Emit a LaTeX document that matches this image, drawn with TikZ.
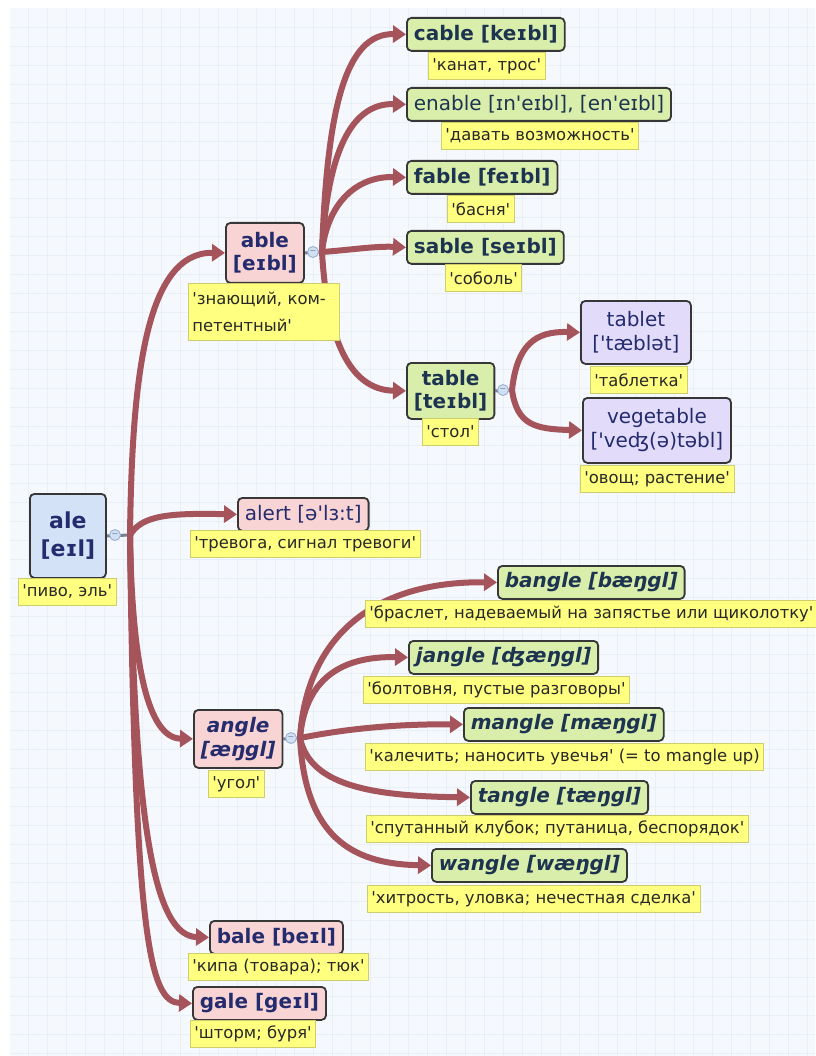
\documentclass[tikz,border=0pt]{standalone}
\usepackage{fontspec}
\setmainfont{DejaVu Sans}[Ligatures=TeXOff]
\usetikzlibrary{arrows.meta}
\definecolor{pagebg}{RGB}{245,248,252}
\definecolor{gridline}{RGB}{233,239,247}
\definecolor{linkc}{RGB}{164,84,90}
\definecolor{boxline}{RGB}{55,55,55}
\definecolor{rootfill}{RGB}{212,226,248}
\definecolor{pinkfill}{RGB}{248,212,212}
\definecolor{greenfill}{RGB}{218,238,172}
\definecolor{lilacfill}{RGB}{226,220,250}
\definecolor{glossfill}{RGB}{255,255,128}
\definecolor{glossline}{RGB}{205,205,110}
\definecolor{wordink}{RGB}{36,44,110}
\definecolor{greenink}{RGB}{28,52,80}
\definecolor{glossink}{RGB}{40,40,40}
\definecolor{knobfill}{RGB}{208,224,244}
\definecolor{knobline}{RGB}{150,172,205}
\definecolor{stubc}{RGB}{120,128,150}
\pgfdeclarelayer{back}
\pgfdeclarelayer{links}
\pgfsetlayers{back,links,main}
\begin{document}
\begin{tikzpicture}[x=1pt,y=-1pt,
  word/.style={draw=boxline, line width=1.8pt, rounded corners=4.5pt,
    inner xsep=7pt, inner ysep=3pt, anchor=north west, align=center,
    font=\fontsize{20}{23}\selectfont\bfseries, text=wordink, minimum height=33pt},
  rootbox/.style={word, fill=rootfill},
  pinkbox/.style={word, fill=pinkfill},
  greenbox/.style={word, fill=greenfill, text=greenink},
  lilacbox/.style={word, fill=lilacfill, font=\fontsize{20}{24}\selectfont},
  plain/.style={font=\fontsize{20}{23}\selectfont},
  slanted/.style={font=\fontsize{20}{24}\selectfont\bfseries\itshape},
  gloss/.style={fill=glossfill, draw=glossline, line width=0.8pt, anchor=north west,
    inner xsep=4pt, inner ysep=2pt, minimum height=27pt,
    font=\fontsize{16.4}{19}\selectfont, text=glossink},
  knob/.style={circle, fill=knobfill, draw=knobline, line width=0.8pt,
    minimum size=11pt, inner sep=0pt, font=\fontsize{8}{8}\selectfont, text=stubc},
  stub/.style={draw=stubc, line width=3pt},
  link/.style={draw=linkc, line width=6pt, -{Triangle[length=13pt,width=17pt]}},
]
\useasboundingbox (0,0) rectangle (815,1056);

% page and faint grid
\begin{pgfonlayer}{back}
  \fill[white] (0,0) rectangle (815,1056);
  \fill[pagebg] (10,8) rectangle (815,1056);
  \foreach \gx in {28,47,...,815} \draw[gridline, line width=0.6pt] (\gx,8) -- (\gx,1056);
  \foreach \gy in {27,46,...,1056} \draw[gridline, line width=0.6pt] (10,\gy) -- (815,\gy);
\end{pgfonlayer}

% root
\node[rootbox, font=\fontsize{22}{28}\selectfont\bfseries, minimum width=76pt, minimum height=84pt] (ale) at (29,493) {ale\\{}[eɪl]};
\node[gloss] (aleG) at (18,578) {'пиво, эль'};
\coordinate (aleK) at (115,535);
\coordinate (aleJ) at (130,535);

% able branch
\node[pinkbox, minimum width=78pt, minimum height=60pt] (able) at (225,222) {able\\{}[eɪbl]};
\node[gloss, text width=143pt, align=left, font=\fontsize{16.4}{27}\selectfont, minimum height=57pt] (ableG) at (188,283) {'знающий, ком-\\петентный'};
\coordinate (ableK) at (313,252);
\coordinate (ableJ) at (322,252);

\node[greenbox] (cable) at (406,17) {cable [keɪbl]};
\node[gloss] (cableG) at (428,52) {'канат, трос'};
\node[greenbox, plain] (enable) at (406,87) {enable [ɪn'eɪbl], [en'eɪbl]};
\node[gloss] (enableG) at (441,122) {'давать возможность'};
\node[greenbox] (fable) at (406,160) {fable [feɪbl]};
\node[gloss] (fableG) at (447,195) {'басня'};
\node[greenbox] (sable) at (406,230) {sable [seɪbl]};
\node[gloss] (sableG) at (445,264) {'соболь'};
\node[greenbox, minimum width=87pt, minimum height=56pt] (table) at (406,362) {table\\{}[teɪbl]};
\node[gloss] (tableG) at (422,418) {'стол'};
\coordinate (tableK) at (503,390);
\coordinate (tableJ) at (512,390);

\node[lilacbox, minimum width=110pt, minimum height=63pt] (tablet) at (580,300) {tablet\\{}['tæblət]};
\node[gloss] (tabletG) at (590,366) {'таблетка'};
\node[lilacbox, minimum width=148pt, minimum height=65pt] (vegetable) at (582,397) {vegetable\\{}['veʤ(ə)təbl]};
\node[gloss] (vegetableG) at (580,465) {'овощ; растение'};

% alert
\node[pinkbox, plain] (alert) at (237,497) {alert [ə'lɜ:t]};
\node[gloss] (alertG) at (190,530) {'тревога, сигнал тревоги'};

% angle branch
\node[pinkbox, slanted, minimum width=87pt, minimum height=58pt] (angle) at (193,709) {angle\\{}[æŋgl]};
\node[gloss] (angleG) at (208,770) {'угол'};
\coordinate (angleK) at (291,738);
\coordinate (angleJ) at (300,738);

\node[greenbox, slanted] (bangle) at (497,565) {bangle [bæŋgl]};
\node[gloss] (bangleG) at (365,600) {'браслет, надеваемый на запястье или щиколотку'};
\node[greenbox, slanted] (jangle) at (408,640) {jangle [ʤæŋgl]};
\node[gloss] (jangleG) at (363,676) {'болтовня, пустые разговоры'};
\node[greenbox, slanted] (mangle) at (463,707) {mangle [mæŋgl]};
\node[gloss] (mangleG) at (365,743) {'калечить; наносить увечья' (= to mangle up)};
\node[greenbox, slanted] (tangle) at (470,780) {tangle [tæŋgl]};
\node[gloss] (tangleG) at (366,815) {'спутанный клубок; путаница, беспорядок'};
\node[greenbox, slanted] (wangle) at (431,848) {wangle [wæŋgl]};
\node[gloss] (wangleG) at (367,885) {'хитрость, уловка; нечестная сделка'};

% bale, gale
\node[pinkbox] (bale) at (209,920) {bale [beɪl]};
\node[gloss] (baleG) at (188,953) {'кипа (товара); тюк'};
\node[pinkbox] (gale) at (192,986) {gale [geɪl]};
\node[gloss] (galeG) at (190,1020) {'шторм; буря'};

\begin{pgfonlayer}{links}
  % stubs from boxes through the collapse knobs
  \draw[stub] (ale.east) -- (aleJ);
  \draw[stub] (able.east) -- (ableJ);
  \draw[stub] (table.east) -- (tableJ);
  \draw[stub] (angle.east) -- (angleJ);

  % from the root
  \draw[link] (aleJ) .. controls (132,380) and (145,252) .. (able.west);
  \draw[link] (aleJ) .. controls (142,515) and (170,513) .. (alert.west);
  \draw[link] (aleJ) .. controls (132,665) and (148,738) .. (angle.west);
  \draw[link] (aleJ) .. controls (134,830) and (155,936) .. (bale.west);
  \draw[link] (aleJ) .. controls (135,940) and (150,1002) .. (gale.west);

  % from able
  \draw[link] (ableJ) .. controls (327,110) and (345,33) .. (cable.west);
  \draw[link] (ableJ) .. controls (327,155) and (350,103) .. (enable.west);
  \draw[link] (ableJ) .. controls (327,205) and (355,176) .. (fable.west);
  \draw[link] (ableJ) .. controls (350,250) and (375,246) .. (sable.west);
  \draw[link] (ableJ) .. controls (327,340) and (350,390) .. (table.west);

  % from table
  \draw[link] (tableJ) .. controls (517,345) and (535,331) .. (tablet.west);
  \draw[link] (tableJ) .. controls (517,425) and (535,429) .. (vegetable.west);

  % from angle
  \draw[link] (angleJ) .. controls (306,640) and (370,581) .. (bangle.west);
  \draw[link] (angleJ) .. controls (305,680) and (340,656) .. (jangle.west);
  \draw[link] (angleJ) .. controls (350,728) and (400,724) .. (mangle.west);
  \draw[link] (angleJ) .. controls (310,785) and (370,796) .. (tangle.west);
  \draw[link] (angleJ) .. controls (305,835) and (350,864) .. (wangle.west);
\end{pgfonlayer}

% collapse knobs sit on top of the stubs
\node[knob] (aleKnob) at (aleK) {−};
\node[knob] (ableKnob) at (ableK) {−};
\node[knob] (tableKnob) at (tableK) {−};
\node[knob] (angleKnob) at (angleK) {−};
\end{tikzpicture}
\end{document}
